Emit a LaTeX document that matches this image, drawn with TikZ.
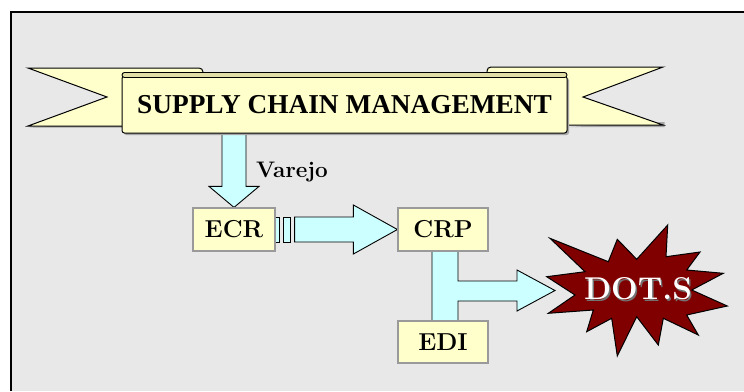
\documentclass[tikz,border=0pt]{standalone}
\usepackage{fontspec}
\newfontfamily\scmfont{Liberation Serif}
\usetikzlibrary{calc}
\definecolor{bg}{HTML}{E8E8E8}
\definecolor{ribbon}{HTML}{FFFFCC}
\definecolor{ribbondark}{HTML}{E0DEA6}
\definecolor{flow}{HTML}{CCFFFF}
\definecolor{burst}{HTML}{800000}
\definecolor{boxline}{HTML}{9A9A9A}
\tikzset{
  stepbox/.style={draw=boxline, line width=1.2pt, fill=ribbon, minimum height=43pt, inner sep=0pt,
    font=\fontsize{24.5}{24.5}\selectfont\bfseries},
  blockarrow/.style={draw=black, line width=0.9pt, fill=flow, line join=miter},
  ribbonpart/.style={draw=black, line width=1pt, fill=ribbon, line join=miter},
  burstshape/.style={draw=black, line width=1pt, fill=burst, line join=miter},
  lbl/.style={inner sep=0pt, font=\fontsize{22.5}{22.5}\selectfont\bfseries},
}
\begin{document}
\begin{tikzpicture}[x=1pt,y=-1pt]
\useasboundingbox (0,0) rectangle (744,391);
\fill[white] (0,0) rectangle (744,391);
\fill[bg] (11,12) rectangle (744,391);
\draw[line width=2pt] (11,391) -- (11,12) -- (744,12);

% nodes (boxes drawn later over the arrows)
\path (234,229.5) node[stepbox, minimum width=82pt] (ecr) {ECR};
\path (443,229.5) node[stepbox, minimum width=90pt] (crp) {CRP};
\path (443,342) node[stepbox, minimum width=90pt, minimum height=42pt] (edi) {EDI};
\coordinate (dtip) at (555,290.5);

% banner tails (with soft shadow)
\fill[black!35] (29.5,127.5) -- (124,127.5) -- (124,121) -- cycle;
\fill[black!35] (566,127) -- (664.5,127) -- (664.5,122) -- cycle;
\draw[ribbonpart] (28,68) -- (199,68) to[out=0,in=90] (203,72) -- (203,110) -- (124,110) -- (124,126) -- (28,126) -- (107,97) -- cycle;
\draw[ribbonpart] (663,67) -- (491,67) to[out=180,in=90] (487,71) -- (487,110) -- (565,110) -- (565,125) -- (663,125) -- (583,97) -- cycle;

% arrows
\coordinate (va) at (ecr.north |- 0,128);
\draw[blockarrow] ($(va)+(-12,0)$) -- ($(ecr.north)+(-12,-21)$) -- ($(ecr.north)+(-25,-21)$) -- (ecr.north)
  -- ($(ecr.north)+(25,-21)$) -- ($(ecr.north)+(12,-21)$) -- ($(va)+(12,0)$);
\draw[blockarrow] ($(ecr.east)+(0,-12.5)$) rectangle ($(ecr.east)+(4,12.5)$);
\draw[blockarrow] ($(ecr.east)+(8,-12.5)$) rectangle ($(ecr.east)+(15,12.5)$);
\draw[blockarrow] ($(ecr.east)+(19,-12.5)$) -- ($(crp.west)+(-44,-12.5)$) -- ($(crp.west)+(-44,-24.5)$) -- (crp.west)
  -- ($(crp.west)+(-44,24.5)$) -- ($(crp.west)+(-44,12.5)$) -- ($(ecr.east)+(19,12.5)$) -- cycle;
\coordinate (bl) at ($(crp.south)+(-11,-3)$);
\coordinate (br) at ($(crp.south)+(15,-3)$);
\coordinate (hu) at ($(dtip)+(-38,-9.5)$);
\coordinate (hd) at ($(dtip)+(-38,10.5)$);
\draw[blockarrow] (bl) -- ($(edi.north)+(-11,3)$) -- ($(edi.north)+(15,3)$) -- (br |- hd)
  -- (hd) -- ($(dtip)+(-38,20.5)$) -- (dtip) -- ($(dtip)+(-38,-20.5)$) -- (hu)
  -- (br |- hu) -- (br) -- cycle;

% banner front
\fill[black!35, rounded corners=2.5pt] (124,78) rectangle (569,135);
\node[draw=black, line width=1pt, fill=ribbon, rounded corners=2.5pt, minimum width=445pt, minimum height=57pt,
  inner sep=0pt, font=\scmfont\bfseries\fontsize{27.3}{27.3}\selectfont] (scm) at (344.5,104.5) {SUPPLY CHAIN MANAGEMENT};
\draw[line width=0.9pt, fill=ribbondark, rounded corners=2.5pt] (122,72.5) rectangle (567,77.5);

% boxes on top
\node[stepbox, minimum width=82pt] at (ecr) {ECR};
\node[stepbox, minimum width=90pt] at (crp) {CRP};
\node[stepbox, minimum width=90pt, minimum height=42pt] at (edi) {EDI};

\node[lbl, anchor=base west] (varejo) at (256,177) {Varejo};

% burst
\draw[burstshape] (667.7,225) -- (666,256.7) -- (700,252) -- (686.7,270) -- (723.3,273.3) -- (691.7,290)
  -- (727.3,306) -- (686.7,315) -- (698.3,335) -- (663.3,318.3) -- (658.3,345) -- (636.7,316.7)
  -- (617.3,356) -- (611.7,318.3) -- (586.7,331.7) -- (593.3,310) -- (548.3,313.3) -- (575,295)
  -- (546.7,276.7) -- (585,271.7) -- (550,238.3) -- (608.3,261.7) -- (617.3,239.3) -- (636.7,259.3) -- cycle;
\node[inner sep=0pt, text=black!55, font=\fontsize{31.5}{31.5}\selectfont\bfseries] at (639.5,290.5) {DOT.S};
\node[inner sep=0pt, text=white, font=\fontsize{31.5}{31.5}\selectfont\bfseries] (dots) at (638,289) {DOT.S};
\end{tikzpicture}
\end{document}
